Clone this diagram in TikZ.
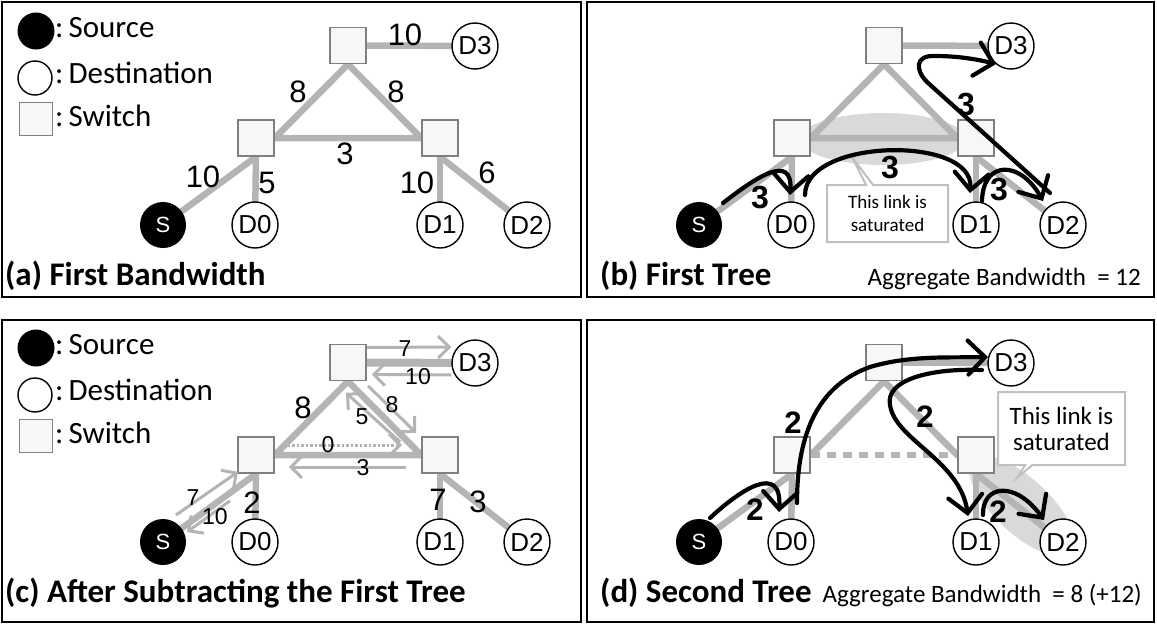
\documentclass[tikz,border=0pt]{standalone}
\usepackage{fontspec}
\setmainfont{Carlito}
\newfontfamily\arialf{Liberation Sans}
\usetikzlibrary{arrows.meta,shapes.geometric,shapes.callouts}
\pgfdeclarelayer{back}
\pgfsetlayers{back,main}
\definecolor{linkgray}{RGB}{180,180,180}
\definecolor{swfill}{RGB}{247,247,247}
\definecolor{swline}{RGB}{128,128,128}
\definecolor{glowgray}{RGB}{217,217,217}
\definecolor{notegray}{RGB}{192,192,192}

\tikzset{
  switchbox/.style={draw=swline, fill=swfill, line width=1.6pt, minimum size=36pt, inner sep=0pt},
  dest/.style={circle, draw=black, fill=white, line width=1.4pt, minimum size=46pt, inner sep=0pt,
    font=\arialf\fontsize{26}{26}\selectfont},
  srcnode/.style={circle, fill=black, minimum size=46pt, inner sep=0pt, text=white,
    font=\arialf\fontsize{22}{22}\selectfont},
  link/.style={draw=linkgray, line width=6.5pt},
  bw/.style={font=\arialf\fontsize{31}{31}\selectfont, inner sep=0pt},
  bwsmall/.style={font=\arialf\fontsize{23}{23}\selectfont, inner sep=0pt},
  flowlabel/.style={font=\arialf\bfseries\fontsize{32}{32}\selectfont, inner sep=0pt},
  flowlabelsm/.style={font=\arialf\bfseries\fontsize{31}{31}\selectfont, inner sep=0pt},
  flow/.style={draw=black, line width=4.2pt, line cap=round, line join=round,
    -{Straight Barb[length=17pt,width=34pt,line cap=round]}},
  residual/.style={draw=linkgray, line width=3pt, -{Straight Barb[length=11pt,width=22pt]}},
  panel/.style={draw=black, line width=2pt},
  title/.style={font=\bfseries\fontsize{33}{33}\selectfont, anchor=base west, inner sep=0pt},
  aggregate/.style={font=\fontsize{25}{25}\selectfont, anchor=base east, inner sep=0pt},
  legendtext/.style={font=\fontsize{31}{31}\selectfont, anchor=base west, inner sep=0pt},
  note/.style={rectangle callout, draw=notegray, line width=2pt, fill=white, align=center, inner sep=0pt},
  glow/.style={ellipse, fill=glowgray, inner sep=0pt},
}

% legend: source, destination, switch
\newcommand\keyat[2]{%
  \begin{scope}[shift={(0,#2)}]
    \node[circle, fill=black, minimum size=37pt, inner sep=0pt] (#1ks) at (36,31) {};
    \node[circle, draw=black, fill=white, line width=1.4pt, minimum size=34pt, inner sep=0pt] (#1kd) at (35,78) {};
    \node[switchbox, minimum size=33pt] (#1kw) at (36,119) {};
    \node[legendtext] (#1kst) at (55,37) {:\,Source};
    \node[legendtext] (#1kdt) at (55,83) {:\,Destination};
    \node[legendtext] (#1kwt) at (55,126) {:\,Switch};
  \end{scope}}

% the network: three switches, the source and four destinations
\newcommand\netat[3]{%
  \begin{scope}[shift={(#2,#3)}]
    \node[switchbox] (#1T) at (348,45.5) {};
    \node[switchbox] (#1L) at (256,138) {};
    \node[switchbox] (#1R) at (440,138) {};
    \node[srcnode] (#1S) at (163,225) {S};
    \node[dest] (#1D0) at (255,225) {D0};
    \node[dest] (#1D1) at (440,225) {D1};
    \node[dest] (#1D2) at (527,225) {D2};
    \node[dest] (#1D3) at (475,46) {D3};
  \end{scope}}

% links other than the triangle
\newcommand\spokes[1]{%
  \draw[link] (#1T.east) -- (#1D3.center);
  \draw[link] (#1L.south) -- (#1S.center);
  \draw[link] (#1L.south) -- (#1D0.center);
  \draw[link] (#1R.south) -- (#1D1.center);
  \draw[link] (#1R.south) -- (#1D2.center);}

\begin{document}
\begin{tikzpicture}[x=1pt, y=-1pt]
\useasboundingbox (0,0) rectangle (1157,624);

% panel frames
\draw[panel] (2,2) rectangle (581,297);
\draw[panel] (587,2) rectangle (1154,297);
\draw[panel] (2,320) rectangle (581,622);
\draw[panel] (587,320) rectangle (1154,622);

% ---------------- (a) ----------------
\keyat{a}{0}
\netat{a}{0}{0}
\begin{pgfonlayer}{back}
  \spokes{a}
  \draw[link] (aL.east) -- (aT.south) -- (aR.west) -- cycle;
\end{pgfonlayer}
\node[bw] (a10t) at (405,35) {10};
\node[bw] (a8l) at (298,92) {8};
\node[bw] (a8r) at (396,92) {8};
\node[bw] (a3) at (345,154) {3};
\node[bw] (a10s) at (203,177) {10};
\node[bw] (a5) at (267,183) {5};
\node[bw] (a10d) at (417,183) {10};
\node[bw] (a6) at (487,173) {6};
\node[title] (atitle) at (5,285) {(a) First Bandwidth};

% ---------------- (b) ----------------
\netat{b}{536}{0}
\begin{pgfonlayer}{back}
  \node[glow, minimum width=165pt, minimum height=52pt] (bglow) at (883,139) {};
  \spokes{b}
  \draw[link] (bL.east) -- (bT.south) -- (bR.west) -- cycle;
\end{pgfonlayer}
\node[note, minimum width=121pt, minimum height=57pt, callout absolute pointer={(852,157)},
  font=\fontsize{19}{23}\selectfont] (bnote) at (887.5,213.5) {This link is\\saturated};
\draw[flow] ([xshift=24pt,yshift=22pt]bS.center) .. controls (755,178) and (793,152) .. ([xshift=-1pt,yshift=30pt]bD0.center);
\draw[flow] ([xshift=14pt,yshift=30pt]bD0.center) .. controls (805,138) and (975,135) .. ([xshift=-6pt,yshift=32pt]bD1.center);
\draw[flow] ([xshift=6pt,yshift=24pt]bD1.center) .. controls (983,160) and (1020,160) .. ([xshift=-20pt,yshift=24pt]bD2.center);
\draw[flow] ([xshift=-13pt,yshift=32pt]bD2.center) -- (927,82) .. controls (915,70) and (915,55) .. (935,56)
  .. controls (960,56) and (980,60) .. ([xshift=-15pt,yshift=-18pt]bD3.center);
\node[flowlabel] (b3a) at (760,198) {3};
\node[flowlabel] (b3b) at (890,168) {3};
\node[flowlabel] (b3c) at (999,190) {3};
\node[flowlabel] (b3d) at (966,105) {3};
\node[title] (btitle) at (600,285) {(b) First Tree};
\node[aggregate] (bagg) at (1141,285) {Aggregate Bandwidth~~= 12};

% ---------------- (c) ----------------
\keyat{c}{317}
\netat{c}{0}{317}
\begin{pgfonlayer}{back}
  \draw[link] (cL.south) -- (cS.center);
  \draw[link] (cL.south) -- (cD0.center);
  \draw[link] (cR.south) -- (cD1.center);
  \draw[link] (cR.south) -- (cD2.center);
  \draw[link, line width=8pt] (cT.east) -- (cD3.center);
  \draw[link] (cL.east) -- (cT.south) -- (cR.west) -- cycle;
\end{pgfonlayer}
\draw[residual] ([yshift=15pt]cT.east) -- ([yshift=16pt]cD3.west);
\draw[residual] ([yshift=-12pt]cD3.west) -- ([xshift=5pt,yshift=-12pt]cT.east);
\draw[residual] ([xshift=20pt,yshift=-4.5pt]cT.south) -- ([xshift=-5pt,yshift=22pt]cR.west);
\draw[residual] ([xshift=-21pt,yshift=13pt]cR.west) -- ([xshift=-2pt,yshift=-11.5pt]cT.south);
\draw[residual, dash pattern=on 2.5pt off 2pt] ([xshift=13pt,yshift=10pt]cL.east) -- ([xshift=-19pt,yshift=10pt]cR.west);
\draw[residual] ([xshift=-15pt,yshift=-12pt]cR.west) -- ([xshift=14pt,yshift=-12pt]cL.east);
\draw[residual] ([xshift=13pt,yshift=27pt]cS.center) -- ([xshift=-18pt,yshift=2pt]cL.south);
\draw[residual] ([xshift=-26pt,yshift=-27pt]cL.south) -- ([xshift=24pt,yshift=10pt]cS.center);
\node[bwsmall] (c7t) at (405,349) {7};
\node[bwsmall] (c10t) at (418,377) {10};
\node[bw] (c8l) at (303,408) {8};
\node[bwsmall] (c8r) at (392,405) {8};
\node[bwsmall] (c5) at (362,417) {5};
\node[bwsmall] (c0) at (328,445) {0};
\node[bwsmall] (c3b) at (363,468) {3};
\node[bwsmall] (c7s) at (193,498) {7};
\node[bwsmall] (c10s) at (215,517) {10};
\node[bw] (c2) at (252,503) {2};
\node[bw] (c7d) at (438,500) {7};
\node[bw] (c3d) at (478,502) {3};
\node[title] (ctitle) at (5,602) {(c) After Subtracting the First Tree};

% ---------------- (d) ----------------
\netat{d}{536}{317}
\begin{pgfonlayer}{back}
  \node[glow, minimum width=135pt, minimum height=55pt, rotate=-43] (dglow) at (1022,506) {};
  \spokes{d}
  \draw[link] (dL.east) -- (dT.south) -- (dR.west);
  \draw[link, dash pattern=on 9pt off 7pt] (dL.east) -- (dR.west);
\end{pgfonlayer}
\node[note, minimum width=127pt, minimum height=73pt, callout absolute pointer={(1017,478)},
  font=\fontsize{25}{26}\selectfont] (dnote) at (1061.5,428.5) {This link is\\saturated};
\draw[flow] ([xshift=11pt,yshift=24pt]dS.center) .. controls (740,490) and (782,462) .. ([xshift=-12pt,yshift=30pt]dD0.center);
\draw[flow] ([xshift=6pt,yshift=39pt]dD0.center) .. controls (797,430) and (820,385) .. (870,367)
  .. controls (910,355) and (950,358) .. ([xshift=-23pt,yshift=6pt]dD3.center);
\draw[flow] ([xshift=-29pt,yshift=-7pt]dD3.center) .. controls (930,368) and (885,380) .. (890,405)
  .. controls (895,440) and (960,460) .. ([xshift=-8pt,yshift=26pt]dD1.center);
\draw[flow] ([xshift=7pt,yshift=27pt]dD1.center) .. controls (982,485) and (1015,480) .. ([xshift=-19pt,yshift=22pt]dD2.center);
\node[flowlabelsm] (d2a) at (755,510) {2};
\node[flowlabelsm] (d2b) at (793,423) {2};
\node[flowlabelsm] (d2c) at (925,417) {2};
\node[flowlabelsm] (d2d) at (998,512) {2};
\node[title] (dtitle) at (600,602) {(d) Second Tree};
\node[aggregate] (dagg) at (1142,602) {Aggregate Bandwidth~~= 8 (+12)};
\end{tikzpicture}
\end{document}
